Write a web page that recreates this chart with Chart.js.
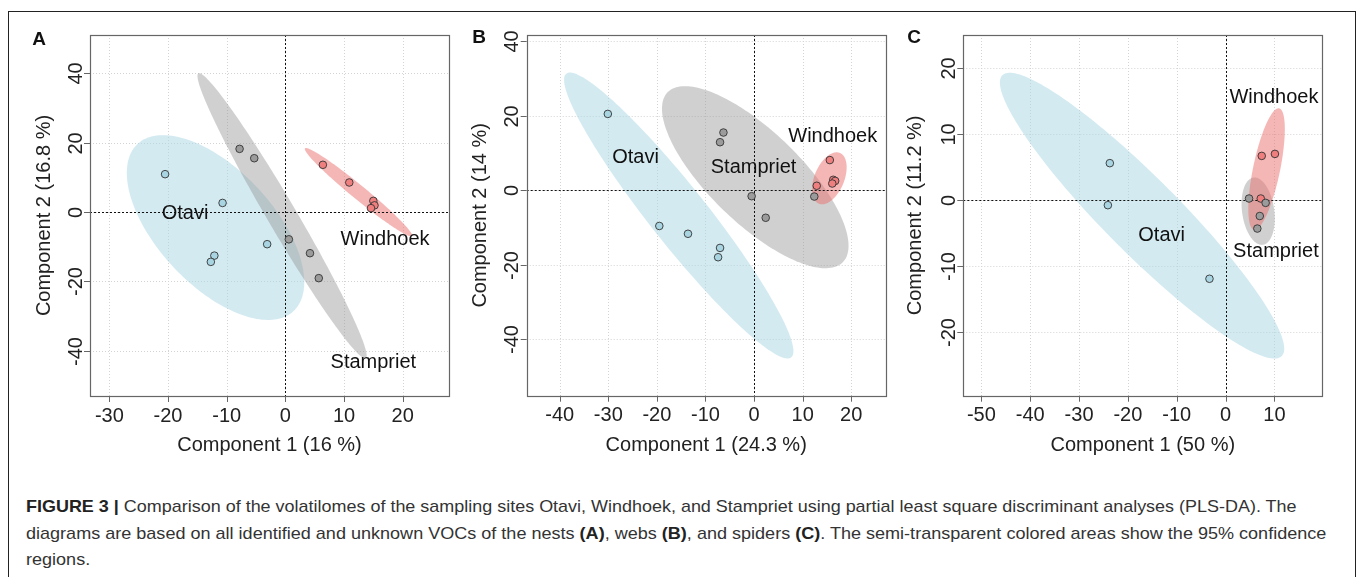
<!DOCTYPE html>
<html>
<head>
<meta charset="utf-8">
<script src="https://cdn.jsdelivr.net/npm/chart.js@4.4.0/dist/chart.umd.min.js"></script>
<style>
  body { margin: 0; background: #fff; width: 1358px; height: 577px; overflow: hidden; position: relative;
         font-family: "Liberation Sans", Arial, sans-serif; }
  .frame { position: absolute; left: 8px; top: 11px; width: 1346px; height: 620px; border: 1px solid #222; border-bottom: none; }
  canvas { position: absolute; top: 0; }
  .cap { position: absolute; left: 26px; font-size: 17px; line-height: 26px; white-space: nowrap; color: #333;
         transform-origin: 0 0; font-family: "Liberation Sans Narrow", "Liberation Sans", Arial, sans-serif; }
  .cap b { color: #222; }
</style>
</head>
<body>
<div class="frame"></div>
<canvas id="chartA" width="460" height="460" style="left:0px"></canvas>
<canvas id="chartB" width="440" height="460" style="left:460px"></canvas>
<canvas id="chartC" width="458" height="460" style="left:900px"></canvas>
<div class="cap" id="cap1" style="top:494px"><b>FIGURE 3 |</b> Comparison of the volatilomes of the sampling sites Otavi, Windhoek, and Stampriet using partial least square discriminant analyses (PLS-DA). The</div>
<div class="cap" id="cap2" style="top:521px">diagrams are based on all identified and unknown VOCs of the nests <b>(A)</b>, webs <b>(B)</b>, and spiders <b>(C)</b>. The semi-transparent colored areas show the 95% confidence</div>
<div class="cap" id="cap3" style="top:547px">regions.</div>
<script>
var groups = ['Otavi', 'Stampriet', 'Windhoek'];

// A: nests
var xTicksA = [-30, -20, -10, 0, 10, 20];
var yTicksA = [-40, -20, 0, 20, 40];
var xRangeA = [-33.3, 27.9];
var yRangeA = [-53.1, 51.05];
var otaviA = [[-20.5, 10.9], [-10.7, 2.6], [-3.1, -9.3], [-12.1, -12.6], [-12.7, -14.4]];
var stamprietA = [[-7.8, 18.2], [-5.3, 15.5], [0.6, -7.9], [4.2, -11.9], [5.7, -19.1]];
var windhoekA = [[6.4, 13.6], [10.9, 8.5], [15.0, 3.2], [15.2, 1.9], [14.6, 1.1]];
// confidence ellipses: centre, end of one axis, end of the other axis
var otaviEllA = [[-11.9, -4.5], [1.4, -28.6], [-19.1, -15.9]];
var stamprietEllA = [[-0.56, -1.1], [13.7, -42.2], [-2.7, -3.2]];
var windhoekEllA = [[12.46, 5.71], [21.57, -6.92], [11.7, 4.15]];
var namePosA = [[-17.1, -0.4], [15.0, -43.5], [17.0, -7.9]];

// B: webs
var xTicksB = [-40, -30, -20, -10, 0, 10, 20];
var yTicksB = [-40, -20, 0, 20, 40];
var xRangeB = [-46.8, 27.1];
var yRangeB = [-55.2, 41.7];
var otaviB = [[-30.1, 20.5], [-19.5, -9.6], [-13.6, -11.7], [-7.0, -15.5], [-7.4, -18.0]];
var stamprietB = [[-6.3, 15.5], [-7.0, 12.9], [-0.5, -1.6], [2.4, -7.4], [12.4, -1.7]];
var windhoekB = [[15.6, 8.1], [12.9, 1.2], [16.3, 2.8], [16.7, 2.5], [16.1, 1.8]];
var otaviEllB = [[-15.5, -6.8], [7.65, -44.9], [-20.1, -11.6]];
var stamprietEllB = [[0.25, 3.5], [18.3, -19.3], [-6.3, -5.35]];
var windhoekEllB = [[15.5, 3.2], [17.7, 10.0], [18.3, 1.6]];
var namePosB = [[-24.4, 8.8], [-0.1, 6.1], [16.2, 14.4]];

// C: spiders
var xTicksC = [-50, -40, -30, -20, -10, 0, 10];
var yTicksC = [-20, -10, 0, 10, 20];
var xRangeC = [-53.7, 19.8];
var yRangeC = [-29.6, 25.0];
var otaviC = [[-23.7, 5.6], [-24.1, -0.76], [-3.3, -11.9]];
var stamprietC = [[4.8, 0.25], [8.2, -0.41], [7.0, -2.4], [6.5, -4.3]];
var windhoekC = [[7.4, 6.7], [10.1, 7.0], [7.2, 0.25]];
var otaviEllC = [[-17.1, -2.35], [11.5, -23.6], [-22.5, -6.4]];
var stamprietEllC = [[6.67, -1.67], [7.63, -6.76], [3.41, -2.0]];
var windhoekEllC = [[8.39, 4.7], [10.96, 13.9], [11.1, 4.3]];
var namePosC = [[-13.1, -5.4], [10.3, -7.8], [9.9, 15.5]];

var pointFill = ['#a9d5e2', '#9b9b9b', '#ef7f7f'];
var areaFill = ['rgba(173,216,230,0.54)', 'rgba(150,150,150,0.45)', 'rgba(235,110,110,0.5)'];
var FONT = '"Liberation Sans", Arial, sans-serif';

function toXY(arr) {
  return arr.map(function(p) { return { x: p[0], y: p[1] }; });
}

function renderPanel(canvasId, p) {
  var ctx = document.getElementById(canvasId).getContext('2d');

  var rplot = {
    id: 'rplot',
    beforeDatasetsDraw: function(chart) {
      var c = chart.ctx, a = chart.chartArea;
      var xs = chart.scales.x, ys = chart.scales.y;
      c.save();
      c.beginPath();
      c.rect(a.left, a.top, a.right - a.left, a.bottom - a.top);
      c.clip();
      // grid
      c.strokeStyle = '#d4d4d4';
      c.lineWidth = 1;
      c.setLineDash([1, 2]);
      p.xTicks.forEach(function(v) {
        var x = Math.round(xs.getPixelForValue(v)) + 0.5;
        c.beginPath(); c.moveTo(x, a.top); c.lineTo(x, a.bottom); c.stroke();
      });
      p.yTicks.forEach(function(v) {
        var y = Math.round(ys.getPixelForValue(v)) + 0.5;
        c.beginPath(); c.moveTo(a.left, y); c.lineTo(a.right, y); c.stroke();
      });
      c.setLineDash([]);
      // ellipses
      p.ellipses.forEach(function(e, i) {
        var cx = xs.getPixelForValue(e[0][0]), cy = ys.getPixelForValue(e[0][1]);
        var ux = xs.getPixelForValue(e[1][0]) - cx, uy = ys.getPixelForValue(e[1][1]) - cy;
        var vx = xs.getPixelForValue(e[2][0]) - cx, vy = ys.getPixelForValue(e[2][1]) - cy;
        c.beginPath();
        for (var k = 0; k <= 180; k++) {
          var t = k / 180 * Math.PI * 2;
          var px = cx + ux * Math.cos(t) + vx * Math.sin(t);
          var py = cy + uy * Math.cos(t) + vy * Math.sin(t);
          if (k === 0) c.moveTo(px, py); else c.lineTo(px, py);
        }
        c.closePath();
        c.fillStyle = areaFill[i];
        c.fill();
      });
      // zero lines
      c.strokeStyle = '#111';
      c.setLineDash([2, 2]);
      var x0 = Math.round(xs.getPixelForValue(0)) + 0.5;
      var y0 = Math.round(ys.getPixelForValue(0)) + 0.5;
      c.beginPath(); c.moveTo(x0, a.top); c.lineTo(x0, a.bottom); c.stroke();
      c.beginPath(); c.moveTo(a.left, y0); c.lineTo(a.right, y0); c.stroke();
      c.restore();
    },
    afterDatasetsDraw: function(chart) {
      var c = chart.ctx;
      var xs = chart.scales.x, ys = chart.scales.y;
      c.save();
      c.font = '20px ' + FONT;
      c.fillStyle = '#111';
      c.textAlign = 'center';
      c.textBaseline = 'middle';
      p.names.forEach(function(pos, i) {
        c.fillText(groups[i], xs.getPixelForValue(pos[0]), ys.getPixelForValue(pos[1]));
      });
      c.restore();
    },
    afterDraw: function(chart) {
      var c = chart.ctx, a = chart.chartArea;
      var xs = chart.scales.x, ys = chart.scales.y;
      c.save();
      c.strokeStyle = '#666';
      c.lineWidth = 1.2;
      c.strokeRect(Math.round(a.left) + 0.5, Math.round(a.top) + 0.5,
                   Math.round(a.right - a.left), Math.round(a.bottom - a.top));
      c.lineWidth = 1;
      p.xTicks.forEach(function(v) {
        var x = Math.round(xs.getPixelForValue(v)) + 0.5;
        c.beginPath(); c.moveTo(x, a.bottom); c.lineTo(x, a.bottom + 6); c.stroke();
      });
      c.font = '20px ' + FONT;
      c.fillStyle = '#222';
      c.textAlign = 'center';
      c.textBaseline = 'alphabetic';
      p.yTicks.forEach(function(v) {
        var y = Math.round(ys.getPixelForValue(v)) + 0.5;
        c.beginPath(); c.moveTo(a.left, y); c.lineTo(a.left - 6, y); c.stroke();
        c.save();
        c.translate(a.left - 8.5, y);
        c.rotate(-Math.PI / 2);
        c.fillText(String(v), 0, 0);
        c.restore();
      });
      c.font = 'bold 19px ' + FONT;
      c.fillStyle = '#111';
      c.textBaseline = 'middle';
      c.fillText(p.tag, p.tagPos[0], p.tagPos[1]);
      c.restore();
    }
  };

  var datasets = p.series.map(function(s, i) {
    return {
      label: groups[i],
      data: toXY(s),
      backgroundColor: pointFill[i],
      borderColor: '#333',
      borderWidth: 0.9,
      pointRadius: 3.8
    };
  });

  new Chart(ctx, {
    type: 'scatter',
    data: { datasets: datasets },
    options: {
      responsive: false,
      animation: false,
      devicePixelRatio: 1,
      layout: { padding: { top: 35, right: p.padRight, left: 0, bottom: 0 } },
      plugins: { legend: { display: false }, tooltip: { enabled: false } },
      scales: {
        x: {
          type: 'linear',
          min: p.xRange[0],
          max: p.xRange[1],
          afterBuildTicks: function(s) { s.ticks = p.xTicks.map(function(v) { return { value: v }; }); },
          afterFit: function(s) { s.height = p.xHeight; },
          grid: { display: false, drawTicks: false },
          border: { display: false },
          ticks: { padding: 8, color: '#222', font: { family: FONT, size: 20 }, maxRotation: 0, autoSkip: false },
          title: { display: true, text: p.xTitle, color: '#222', font: { family: FONT, size: 20 }, padding: { top: 0, bottom: 3 } }
        },
        y: {
          type: 'linear',
          min: p.yRange[0],
          max: p.yRange[1],
          afterBuildTicks: function(s) { s.ticks = p.yTicks.map(function(v) { return { value: v }; }); },
          afterFit: function(s) { s.width = p.yWidth; },
          grid: { display: false, drawTicks: false },
          border: { display: false },
          ticks: { display: false },
          title: { display: true, text: p.yTitle, color: '#222', font: { family: FONT, size: 20 }, padding: { top: p.yTitlePad, bottom: 0 } }
        }
      }
    },
    plugins: [rplot]
  });
}

renderPanel('chartA', {
  series: [otaviA, stamprietA, windhoekA],
  ellipses: [otaviEllA, stamprietEllA, windhoekEllA],
  names: namePosA,
  xTicks: xTicksA, yTicks: yTicksA, xRange: xRangeA, yRange: yRangeA,
  xTitle: 'Component 1 (16 %)', yTitle: 'Component 2 (16.8 %)',
  tag: 'A', tagPos: [39, 40],
  padRight: 11, yWidth: 90, xHeight: 64, yTitlePad: 32
});

renderPanel('chartB', {
  series: [otaviB, stamprietB, windhoekB],
  ellipses: [otaviEllB, stamprietEllB, windhoekEllB],
  names: namePosB,
  xTicks: xTicksB, yTicks: yTicksB, xRange: xRangeB, yRange: yRangeB,
  xTitle: 'Component 1 (24.3 %)', yTitle: 'Component 2 (14 %)',
  tag: 'B', tagPos: [19, 38],
  padRight: 14.3, yWidth: 66.7, xHeight: 64.3, yTitlePad: 8.7
});

renderPanel('chartC', {
  series: [otaviC, stamprietC, windhoekC],
  ellipses: [otaviEllC, stamprietEllC, windhoekEllC],
  names: namePosC,
  xTicks: xTicksC, yTicks: yTicksC, xRange: xRangeC, yRange: yRangeC,
  xTitle: 'Component 1 (50 %)', yTitle: 'Component 2 (11.2 %)',
  tag: 'C', tagPos: [14, 38],
  padRight: 35.7, yWidth: 63.3, xHeight: 64.3, yTitlePad: 3.7
});

// caption lines squeezed to the widths of the printed figure
function fitLine(id, width) {
  var el = document.getElementById(id);
  var s = width / el.scrollWidth;
  el.style.transform = 'scaleX(' + s + ')';
  return s;
}
var capScale = fitLine('cap2', 1300);
fitLine('cap1', 1271);
document.getElementById('cap3').style.transform = 'scaleX(' + capScale + ')';
</script>
</body>
</html>
